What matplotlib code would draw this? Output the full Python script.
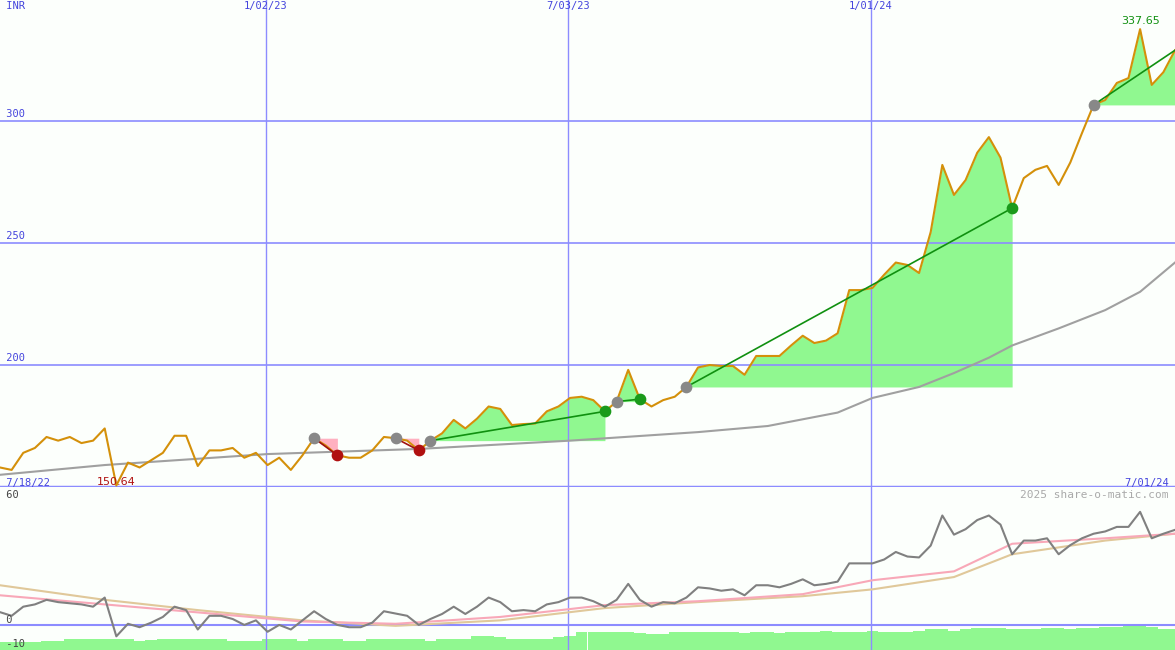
import numpy as np
import matplotlib.pyplot as plt

# weekly closing prices (INR)
price = [158, 157, 164, 166, 170.5, 169, 170.5, 168, 169, 174, 150.64, 160, 158, 161, 164, 171,
         171, 158.6, 165, 165, 166, 162, 164, 159, 162, 157, 163, 170, 167, 163, 162, 162,
         165, 170.5, 170, 169, 165, 169, 172, 177.5, 174, 178, 183, 182, 175.4, 175.8, 176, 181,
         183, 186.5, 187, 185.6, 181, 185, 198, 186, 183, 185.6, 187, 191, 199, 200, 199.6, 199.6,
         196, 203.7, 203.7, 203.7, 208, 212, 209, 210, 213, 230.7, 230.7, 231.6, 237, 242, 241, 237.7,
         254.5, 282, 269.7, 275.8, 287, 293.4, 285, 264.3, 276.6, 280, 281.6, 273.8, 283, 295, 306.6, 308.6,
         315.6, 317.6, 337.65, 314.8, 320, 329]
# long moving average, sampled at selected weeks
ma_idx = [0, 9, 23, 36, 49, 60, 66, 72, 75, 79, 82, 85, 87, 91, 95, 98, 101]
ma_val = [155, 159, 163.5, 165.6, 169, 172.5, 175, 180.5, 186.5, 191, 196.7, 203, 208, 215, 222.5, 230, 242]

# lower panel oscillator
osc = [5.6, 4, 8, 9, 11, 10, 9.5, 9, 8, 12, -5, 0.5, -1, 1, 3.5, 8, 6.5, -2, 4, 4, 2.6, 0, 2, -3,
       0, -2, 2, 6, 2.6, 0, -1, -1, 1, 6, 5, 4, 0, 2.6, 4.8, 8, 4.8, 8, 12, 10, 6, 6.5, 6, 9, 10, 12,
       12, 10.4, 8, 11, 18, 11, 8, 10, 9.5, 12, 16.5, 16, 15, 15.6, 13, 17.4, 17.4, 16.5, 18, 20, 17.4,
       18, 19, 27, 27, 27, 28.7, 32, 30, 29.6, 34.8, 48, 39.6, 42, 46, 48, 44, 31, 37, 37, 38, 31, 35,
       38, 40, 41, 43, 43, 49.6, 38, 40, 41.7]
sig_idx = [0, 9, 17, 26, 34, 43, 52, 60, 69, 75, 82, 87, 95, 101]
pink_val = [13, 9, 5.5, 1.5, 0.5, 3.5, 8.7, 10.4, 13.5, 19.6, 23.5, 35.6, 38, 40]
tan_val = [17.4, 11, 6.5, 2, -0.4, 2, 7.4, 10, 12.6, 15.6, 21, 31, 37, 40]
vol = [-7.5, -7.5, -7.5, -7.5, -7, -7, -6, -6, -6, -6, -6, -6, -7, -6.5, -6, -6, -6, -6, -6, -6,
       -7, -7, -7, -6, -6, -6, -7, -6, -6, -6, -7, -7, -6, -6, -6, -6, -6, -7, -6, -6, -6, -5, -5,
       -5.5, -6, -6, -6, -6, -5.5, -5, -3, -3, -3, -3, -3, -3.5, -4, -4, -3, -3, -3, -3, -3, -3,
       -3.5, -3, -3, -3.5, -3, -3, -3, -2.5, -3, -3, -3, -2.5, -3, -3, -3, -2.5, -2, -2, -2.5, -2,
       -1.5, -1.5, -1.5, -2, -2, -2, -1.5, -1.5, -2, -1.5, -1.5, -1, -1, -0.5, -0.5, -1, -2, -2]

# trend segments: start index, end index, colour, end marker
segments = [(27, 29, 'red', True), (34, 36, 'red', True), (37, 52, 'green', True),
            (53, 55, 'green', True), (59, 87, 'green', True), (94, 101, 'green', False)]

dates = np.datetime64('2022-07-26') + 7 * np.arange(len(price))
dates = dates.astype('datetime64[D]').astype(object)
price = np.array(price)
ma_dates = [dates[i] for i in ma_idx]
sig_dates = [dates[i] for i in sig_idx]

grid_c = '#8c8cff'
mono = 'DejaVu Sans Mono'
fig = plt.figure(figsize=(11.75, 6.5), dpi=100)
ax = fig.add_axes([0, 163 / 650, 1, 487 / 650])
ax2 = fig.add_axes([0, 0, 1, 163 / 650])
bg = '#fcfffc'
for a in (ax, ax2):
    a.set_facecolor(bg)
    for s in a.spines.values():
        s.set_visible(False)
    a.set_xticks([])
    a.set_yticks([])
    a.set_xlim(dates[0], dates[-1])
fig.patch.set_facecolor(bg)

ax.set_ylim(150, 349.6)
for v in (200, 250, 300):
    ax.axhline(v, color=grid_c, lw=1.2)
    ax.text(dates[0], v + 1.5, ' %d' % v, color='#4444dd', fontsize=7.5, family=mono)
ax.axhline(150, color=grid_c, lw=2.5)
vl = [np.datetime64('2023-01-02'), np.datetime64('2023-07-03'), np.datetime64('2024-01-01')]
vlab = ['1/02/23', '7/03/23', '1/01/24']
for d, lab in zip(vl, vlab):
    d = d.astype(object)
    ax.axvline(d, color=grid_c, lw=1)
    ax2.axvline(d, color=grid_c, lw=1)
    ax.text(d, 349, lab, color='#4444dd', fontsize=7.5, ha='center', va='top', family=mono)
ax.text(dates[0], 349, ' INR', color='#4444dd', fontsize=7.5, va='top', family=mono)
ax.text(dates[0], 150.5, ' 7/18/22', color='#4444dd', fontsize=7.5, family=mono)
ax.text(dates[-1], 150.5, '7/01/24 ', color='#4444dd', fontsize=7.5, ha='right', family=mono)

for s, e, c, mark in segments:
    base = price[s]
    x = dates[s:e + 1]
    y = price[s:e + 1]
    if c == 'green':
        ax.fill_between(x, base, y, where=y >= base, color='#90f890', lw=0, interpolate=True)
        lc = '#109010'
    else:
        ax.fill_between(x, base, y, where=y <= base, color='#ffb0c0', lw=0, interpolate=True)
        lc = '#a01010'
    ax.plot([dates[s], dates[e]], [price[s], price[e]], color=lc, lw=1.2, zorder=4)
    ax.scatter([dates[s]], [price[s]], color='#888888', s=55, zorder=5)
    if mark:
        ax.scatter([dates[e]], [price[e]], color='#1a9a1a' if c == 'green' else '#b01010', s=55, zorder=5)

ax.plot(ma_dates, ma_val, color='#a0a0a0', lw=1.5, zorder=3)
ax.plot(dates, price, color='#d4900a', lw=1.5, zorder=3)
imin, imax = price.argmin(), price.argmax()
ax.text(dates[imin], 151, '%.2f' % price[imin], color='#b01010', fontsize=8, ha='center')
ax.text(dates[imax], price[imax] + 2, '%.2f' % price[imax], color='#109010', fontsize=8, ha='center')

ax2.set_ylim(-11, 60.5)
ax2.bar(dates, np.array(vol) + 11, bottom=-11, width=7, color='#90f890', lw=0)
ax2.axhline(0, color=grid_c, lw=1.5)
ax2.plot(sig_dates, tan_val, color='#e0c89a', lw=1.5)
ax2.plot(sig_dates, pink_val, color='#f8a8b8', lw=1.5)
ax2.plot(dates, osc, color='#808080', lw=1.5)
ax2.text(dates[0], 59, ' 60', color='#444444', fontsize=7.5, va='top', family=mono)
ax2.text(dates[0], 1, ' 0', color='#444444', fontsize=7.5, family=mono)
ax2.text(dates[0], -8.2, ' -10', color='#444444', fontsize=7.5, va='center', family=mono, zorder=6)
ax2.text(dates[-1], 59, '2025 share-o-matic.com ', color='#aaaaaa', fontsize=8, ha='right', va='top',
         family=mono)

fig.savefig('out.png', dpi=100, facecolor=bg)
